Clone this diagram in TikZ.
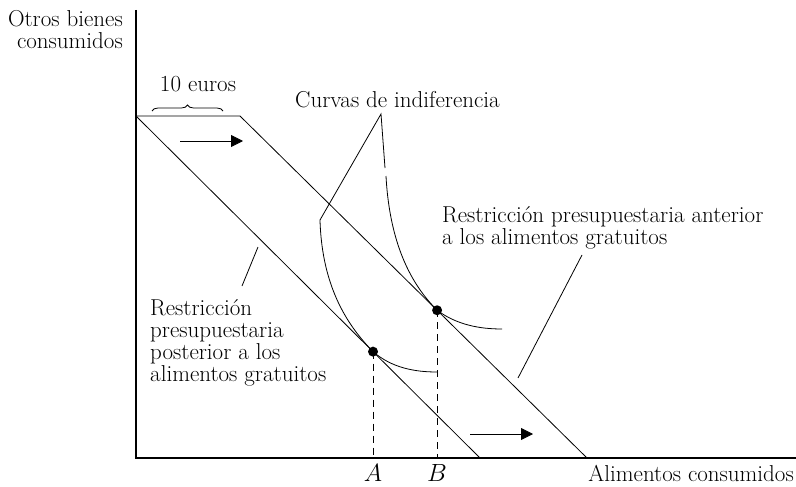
\documentclass[tikz,border=0pt]{standalone}
\usepackage{tikz}
\usetikzlibrary{arrows.meta, calc, decorations.pathreplacing, positioning}

\tikzset{
	axisline/.style={line width=1.1pt},
	budget/.style={line width=0.8pt},
	icurve/.style={line width=0.8pt},
	leader/.style={line width=0.8pt},
	dropline/.style={dash pattern=on 7pt off 5pt, line width=0.6pt},
	shiftarrow/.style={line width=0.8pt, -{Triangle[length=12pt,width=12pt]}},
	txt/.style={inner sep=0pt, font=\fontsize{23}{22}\selectfont},
}

\begin{document}
\begin{tikzpicture}[x=1pt, y=-1pt]
		\useasboundingbox (0,0) rectangle (796,487);
		% axes
		\coordinate (O) at (136,458);
		\coordinate (Ytop) at (136,10);
		\coordinate (Xend) at (796,458);
		\draw[axisline] (Ytop) -- (O) -- (Xend);
		% budget lines
		\coordinate (K0) at (136,116);
		\coordinate (K1) at (240,116);
		\coordinate (Xin) at (480,458);
		\coordinate (Xout) at (587,458);
		\draw[budget] (K0) -- (Xin);
		\draw[budget] (K0) -- (K1) -- (Xout);
		% tangency points
		\coordinate (A) at ($(K0)!0.689!(Xin)$);
		\coordinate (B) at ($(K1)!0.568!(Xout)$);
		% indifference curves
		\coordinate (IA) at (320,220);
		\coordinate (IB) at (386,176);
		\draw[icurve] (IA) .. controls (322,290) and (350,328) .. (A)
			.. controls (392,368) and (415,372) .. (437,372);
		\draw[icurve] (IB) .. controls (390,250) and (415,288) .. (B)
			.. controls (457,325) and (480,329) .. (502,329);
		\draw[dropline] (A) -- (A |- O);
		\draw[dropline] (B) -- (B |- O);
		\foreach \p in {A, B}
		\fill (\p) circle (5pt);
		% shift arrows
		\coordinate (U0) at (180,141);
		\coordinate (U1) at (243,141);
		\coordinate (L0) at (470,434);
		\coordinate (L1) at (533,434);
		\draw[shiftarrow] (U0) -- (U1);
		\draw[shiftarrow] (L0) -- (L1);
		% brace
		\draw[line width=0.8pt, decorate, decoration={brace, amplitude=6pt}] (152,111) -- (223,111);
		% labels
		\node[txt, anchor=north east, align=right] (ylab) at (123,10) {Otros bienes\\consumidos};
		\node[txt, anchor=base east] (xlab) at (794,481) {Alimentos consumidos};
		\node[txt, anchor=base] (euros) at (198,92) {10 euros};
		\node[txt, anchor=base west] (curvas) at (295,108) {Curvas de indiferencia};
		\node[txt, anchor=north west, align=left] (anterior) at (442,206)
			{Restricción presupuestaria anterior\\a los alimentos gratuitos};
		\node[txt, anchor=north west, align=left] (posterior) at (150,299)
			{Restricción\\presupuestaria\\posterior a los\\alimentos gratuitos};
		\node[txt, anchor=base] (labA) at (A |- xlab.base) {$A$};
		\node[txt, anchor=base] (labB) at (B |- xlab.base) {$B$};
		% leaders
		\coordinate (apex) at (381,114);
		\coordinate (apexR) at (385,168);
		\coordinate (antTop) at (582,255);
		\coordinate (antEnd) at (518,378);
		\coordinate (postTop) at (242,286);
		\coordinate (postEnd) at (258,247);
		\draw[leader] (IA) -- (apex) -- (apexR);
		\draw[leader] (antTop) -- (antEnd);
		\draw[leader] (postTop) -- (postEnd);
	\end{tikzpicture}
\end{document}
